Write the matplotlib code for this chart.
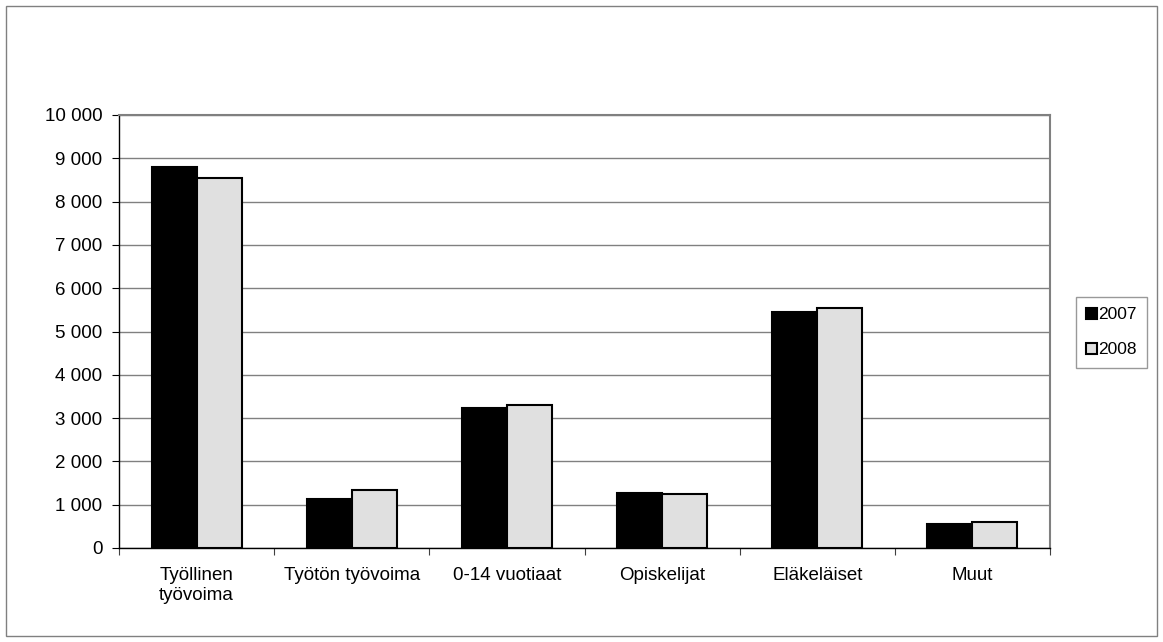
import matplotlib
matplotlib.use("Agg")
import matplotlib.pyplot as plt
import numpy as np
from matplotlib.patches import Rectangle
from matplotlib.ticker import FuncFormatter

plt.rcParams['font.family'] = ['Liberation Sans', 'DejaVu Sans']

categories = ["Työllinen\ntyövoima", "Työtön työvoima", "0-14 vuotiaat",
              "Opiskelijat", "Eläkeläiset", "Muut"]
series_names = ["2007", "2008"]
values_2007 = [8800, 1130, 3240, 1280, 5460, 560]
values_2008 = [8550, 1340, 3300, 1250, 5540, 590]
y_ticks = list(range(0, 10001, 1000))

W, H = 1163, 642
fig = plt.figure(figsize=(W / 100, H / 100), dpi=100)

# outer chart frame
fig.patches.append(Rectangle((6 / W, 1 - 636 / H), (1157 - 6) / W, (636 - 6) / H,
                             transform=fig.transFigure, fill=False,
                             edgecolor='#808080', linewidth=1.0))

left, right, top, bottom = 119, 1050, 115, 548
ax = fig.add_axes([left / W, 1 - bottom / H, (right - left) / W, (bottom - top) / H])

x = np.arange(len(categories))
bw = 0.29
ax.bar(x - bw / 2, values_2007, bw, color='black', edgecolor='black', linewidth=1.5,
       label=series_names[0], zorder=3)
ax.bar(x + bw / 2, values_2008, bw, color='#e0e0e0', edgecolor='black', linewidth=1.5,
       label=series_names[1], zorder=3)

ax.set_xlim(-0.5, len(categories) - 0.5)
ax.set_ylim(0, 10000)
ax.set_yticks(y_ticks)
ax.yaxis.set_major_formatter(FuncFormatter(lambda v, p: f"{int(v):,}".replace(",", " ")))
ax.yaxis.grid(True, color='#808080', linewidth=1.0, zorder=0)

ax.set_xticks(x)
ax.set_xticklabels(categories, fontsize=13.5, linespacing=1.2)
ax.set_xticks(np.arange(-0.5, len(categories), 1.0), minor=True)
ax.tick_params(axis='x', which='major', length=0, pad=14)
ax.tick_params(axis='x', which='minor', length=5, width=0.8, direction='out', color='#404040')
ax.tick_params(axis='y', length=5, width=0.8, direction='out', labelsize=13.5, pad=7)

for s in ['left', 'bottom']:
    ax.spines[s].set_color('black')
    ax.spines[s].set_linewidth(1.0)
for s in ['top', 'right']:
    ax.spines[s].set_color('#808080')
    ax.spines[s].set_linewidth(1.5)

leg = ax.legend(loc='upper left', bbox_to_anchor=((1076 - left) / (right - left), 1 - (297 - top) / (bottom - top)),
                frameon=True, fancybox=False, edgecolor='#808080', fontsize=12.5,
                handlelength=0.6, handleheight=0.6, handletextpad=0.1,
                borderpad=0.6, labelspacing=1.15, borderaxespad=0)
leg.get_frame().set_linewidth(1.0)

fig.savefig("out.png", dpi=100)
